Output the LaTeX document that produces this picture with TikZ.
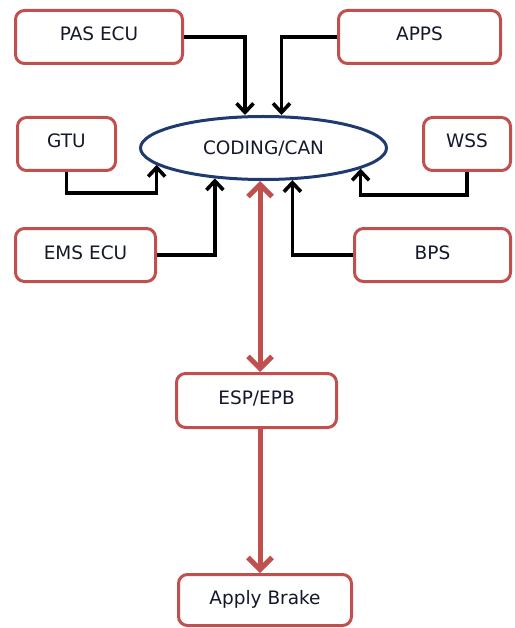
\documentclass[tikz,border=0pt]{standalone}
\usepackage{fontspec}
\setmainfont{DejaVu Sans}
\usetikzlibrary{arrows.meta,shapes.geometric}
\definecolor{boxred}{HTML}{C0504D}
\definecolor{elnavy}{HTML}{1F3A70}
\definecolor{txt}{HTML}{14182A}
\tikzset{
  box/.style={draw=boxred, line width=3pt, rounded corners=9pt, fill=white,
    text=txt, font=\fontsize{18.5}{22}\selectfont, inner sep=0pt, minimum height=53pt,
    text height=13.5pt, text depth=5.5pt},
  blk/.style={draw=black, line width=3.6pt, line join=miter,
    -{Straight Barb[length=9pt,width=17pt]}},
  redarr/.style={draw=boxred, line width=5pt,
    {Straight Barb[length=12pt,width=24pt]}-{Straight Barb[length=12pt,width=24pt]}},
  redone/.style={draw=boxred, line width=5pt, -{Straight Barb[length=12pt,width=24pt]}}
}
\begin{document}
\begin{tikzpicture}[x=1pt,y=-1pt]
\useasboundingbox (0,0) rectangle (514,628);
\node[box, minimum width=167pt] (pas) at (99,37) {PAS ECU};
\node[box, minimum width=162pt] (apps) at (419.5,37) {APPS};
\node[box, minimum width=98pt] (gtu) at (66.5,144) {GTU};
\node[box, minimum width=87pt] (wss) at (467,144) {WSS};
\node[box, minimum width=140pt] (ems) at (85.5,255) {EMS ECU};
\node[box, minimum width=156pt] (bps) at (432.5,255) {BPS};
\node[box, minimum width=160pt, minimum height=54pt] (esp) at (256.5,400.5) {ESP/EPB};
\node[box, minimum width=173pt, minimum height=51pt] (ab) at (265,600) {Apply Brake};
\node[draw=elnavy, line width=3pt, ellipse, minimum width=246pt, minimum height=63pt,
  inner sep=0pt, text=txt, font=\fontsize{18.5}{22}\selectfont] (cod) at (263.5,148) {CODING/CAN};
\coordinate (rx) at (260,0);
% black connectors
\draw[blk] (pas.east) -| ([xshift=-18.5pt]cod.north);
\draw[blk] (apps.west) -| ([xshift=18pt]cod.north);
\draw[blk] (gtu.south) -- ++(0,21) -| (cod.189);
\draw[blk] (wss.south) -- ++(0,23) -| (cod.348.7);
\draw[blk] (ems.east) -| (cod.212.7);
\draw[blk] (bps.west) -| (cod.312.6);
% red connectors
\draw[redarr] (rx |- cod.south) -- (rx |- esp.north);
\draw[redone] (rx |- esp.south) -- (rx |- ab.north);
\end{tikzpicture}
\end{document}
